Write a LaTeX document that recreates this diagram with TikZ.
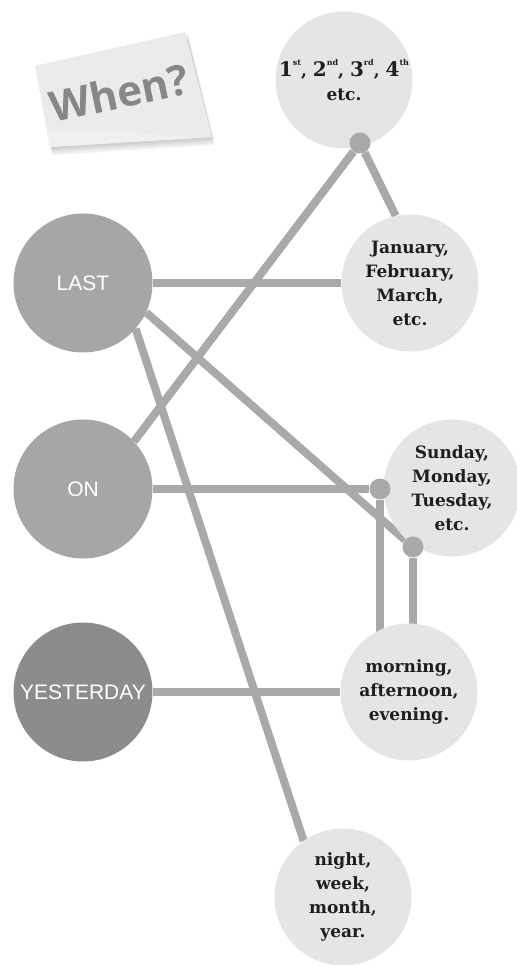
\documentclass[tikz,border=0pt]{standalone}
\usepackage{fontspec}
\setmainfont{DejaVu Serif}
\setsansfont{Liberation Sans}
\newfontfamily\notefont{Open Sans}
\definecolor{whInk}{HTML}{1E1E1E}
\definecolor{whLine}{HTML}{A9A9A9}
\definecolor{whDark}{HTML}{A6A6A6}
\definecolor{whDarker}{HTML}{8C8C8C}
\definecolor{whLight}{HTML}{E5E5E5}
\definecolor{whNote}{HTML}{EBEBEB}
\definecolor{whNoteInk}{HTML}{878787}
\usetikzlibrary{backgrounds}

\newcommand{\ordnum}[2]{{\fontsize{20}{24}\selectfont #1}\raisebox{1.2ex}{\fontsize{8}{8}\selectfont #2}}

\begin{document}
\begin{tikzpicture}[x=1pt,y=-1pt,
                    word/.style={circle,fill=whDark,minimum size=139pt,inner sep=0pt,
                                 text=white,font=\sffamily\fontsize{21}{21}\selectfont},
                    time/.style={circle,fill=whLight,minimum size=137pt,inner sep=0pt,
                                 align=center,text=whInk,
                                 font=\bfseries\fontsize{17}{24}\selectfont},
                    joint/.style={circle,fill=whLine,minimum size=21pt,inner sep=0pt},
                    link/.style={draw=whLine,line width=8pt}]
  \useasboundingbox (0,0) rectangle (516,965);

  % sticky note
  \foreach \d in {2,4,6,8}
    \fill[black,opacity=.05] (38,66+\d) -- (188,32+\d) -- (214,137+\d) -- (52,147+\d) -- cycle;
  \fill[whNote] (35,66) -- (185,32) -- (212,137) -- (50,147) -- cycle;
  \fill[white!94!black] (47,133) .. controls (110,126) and (160,138) .. (212,137)
    -- (50,147) -- cycle;
  \node[rotate=12,text=whNoteInk,font=\notefont\bfseries\fontsize{42}{42}\selectfont] (when)
    at (119,93) {When?};

  % left words
  \node[word] (last) at (83,283) {LAST};
  \node[word] (on) at (83,489) {ON};
  \node[word,fill=whDarker] (yday) at (83,692) {YESTERDAY};

  % right groups
  \node[time] (ordinals) at (344,80)
    {\ordnum{1}{st}, \ordnum{2}{nd}, \ordnum{3}{rd}, \ordnum{4}{th}\\etc.};
  \node[time] (months) at (410,283) {January,\\February,\\March,\\etc.};
  \node[time] (days) at (452,488) {Sunday,\\Monday,\\Tuesday,\\etc.};
  \node[time] (parts) at (409,692) {morning,\\afternoon,\\evening.};
  \node[time] (periods) at (343,897) {night,\\week,\\month,\\year.};

  % joints
  \node[joint] (dotA) at (360,143) {};
  \node[joint] (dotB) at (380,489) {};
  \node[joint] (dotC) at (413,547) {};

  \begin{scope}[on background layer]
    \draw[link] (last) -- (months);
    \draw[link] (last.-25) -- (dotC);
    \draw[link] (last.-41) -- (periods.125);
    \draw[link] (on.43) -- (dotA);
    \draw[link] (dotA) -- (months.102);
    \draw[link] (on) -- (dotB);
    \draw[link] (dotB) -- (dotB |- parts.center);
    \draw[link] (dotC) -- (dotC |- parts.center);
    \draw[link] (yday) -- (parts);
  \end{scope}
\end{tikzpicture}
\end{document}
